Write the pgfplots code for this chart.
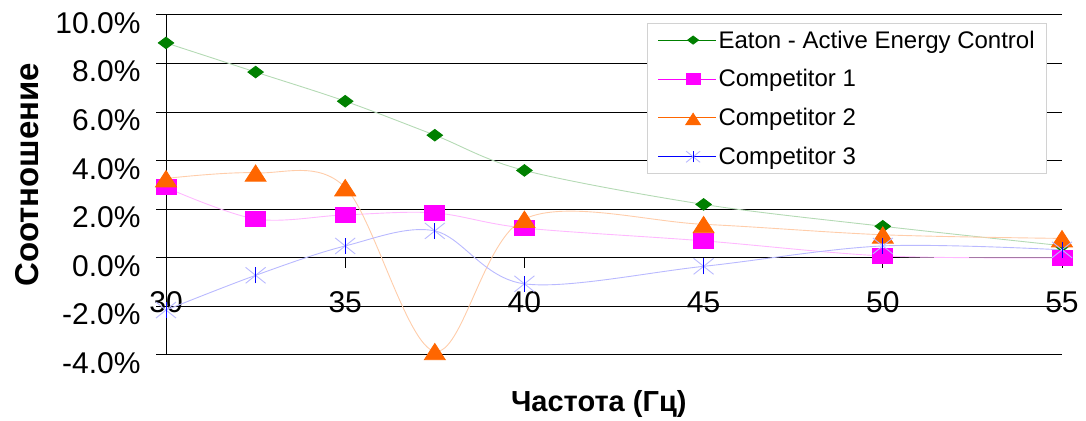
\documentclass[border=0pt]{standalone}
\usepackage{pgfplots}
\pgfplotsset{compat=1.18}
\usepackage{fontspec}
\setmainfont{Liberation Sans}
\definecolor{egreen}{RGB}{0,128,0}
\definecolor{lgreen}{RGB}{180,218,180}
\definecolor{emag}{RGB}{255,0,255}
\definecolor{lmag}{RGB}{255,185,255}
\definecolor{eorange}{RGB}{255,102,0}
\definecolor{lorange}{RGB}{255,205,170}
\definecolor{eblue}{RGB}{0,0,255}
\definecolor{lblue}{RGB}{185,185,255}
\definecolor{legbox}{RGB}{210,210,210}
\pgfdeclareplotmark{excelstar}{%
 \pgfsetstrokecolor{lblue}%
 \pgfpathmoveto{\pgfqpoint{-\pgfplotmarksize}{-0.8\pgfplotmarksize}}%
 \pgfpathlineto{\pgfqpoint{\pgfplotmarksize}{0.8\pgfplotmarksize}}%
 \pgfpathmoveto{\pgfqpoint{-\pgfplotmarksize}{0.8\pgfplotmarksize}}%
 \pgfpathlineto{\pgfqpoint{\pgfplotmarksize}{-0.8\pgfplotmarksize}}%
 \pgfusepathqstroke
 \pgfsetstrokecolor{eblue}%
 \pgfpathmoveto{\pgfqpoint{0pt}{-0.8\pgfplotmarksize}}%
 \pgfpathlineto{\pgfqpoint{0pt}{0.8\pgfplotmarksize}}%
 \pgfusepathqstroke
}
\begin{document}
\begin{tikzpicture}
\begin{axis}[
 scale only axis, width=896pt, height=340pt,
 xmin=30, xmax=55, ymin=-4, ymax=10,
 axis y line=left, axis x line=middle,
 hide obscured x ticks=false,
 axis line style={-, black, line width=1pt},
 xtick={30,35,40,45,50,55},
 xticklabels={30,35,40,45,50,55},
 ytick={-4,-2,0,2,4,6,8,10},
 yticklabels={-4.0\%,-2.0\%,0.0\%,2.0\%,4.0\%,6.0\%,8.0\%,10.0\%},
 tick align=outside,
 major tick length=10pt,
 tick style={black, line width=1pt},
 ymajorgrids, major grid style={black, line width=1pt},
 ticklabel style={font=\fontsize{30}{30}\selectfont},
 yticklabel style={yshift=-8pt, xshift=-12pt},
 xticklabel style={yshift=-20pt},
 /pgf/number format/assume math mode=true,
 xlabel={\textbf{Частота (Гц)}},
 ylabel={\textbf{Соотношение}},
 xlabel style={font=\fontsize{29}{29}\selectfont, at={(axis description cs:0.483,0)}, anchor=north, yshift=-32pt},
 ylabel style={font=\fontsize{33}{33}\selectfont, at={(axis description cs:-0.1545,0.53)}, anchor=center},
 clip=false,
 legend cell align=left,
 legend style={at={(axis description cs:0.537,0.976)}, anchor=north west,
   draw=legbox, line width=1pt, fill=white,
   font=\fontsize{24}{28}\selectfont, row sep=16pt,
   inner xsep=10pt, inner ysep=5pt,
   /tikz/every even column/.append style={column sep=2pt}},
 legend image code/.code={%
   \path (0pt,0pt) -- (58pt,0pt);
   \draw[#1] (12pt,0pt) -- (58pt,0pt);
   \draw[#1, draw=none, every mark/.append style={scale=0.7}] plot coordinates {(35pt,0pt)};},
 every axis plot/.append style={line width=0.9pt, smooth, tension=0.55},
]
\addplot[draw=lgreen, mark=diamond*, mark size=7.7pt,
  mark options={draw=egreen, fill=egreen, rotate=90},
  legend image post style={draw=egreen}]
 coordinates {(30,8.85) (32.5,7.65) (35,6.45) (37.5,5.05) (40,3.6) (45,2.2) (50,1.3) (55,0.5)};
\addlegendentry{Eaton - Active Energy Control}
\addplot[draw=lmag, mark=square*, mark size=10pt,
  mark options={draw=emag, fill=emag, yscale=0.75},
  legend image post style={draw=emag}]
 coordinates {(30,2.9) (32.5,1.6) (35,1.77) (37.5,1.85) (40,1.23) (45,0.7) (50,0.08) (55,0.0)};
\addlegendentry{Competitor 1}
\addplot[draw=lorange, mark=triangle*, mark size=12pt,
  mark options={draw=eorange, fill=eorange, yshift=-3pt, yscale=0.9},
  legend image post style={draw=eorange}]
 coordinates {(30,3.27) (32.5,3.5) (35,2.9) (37.5,-3.85) (40,1.6) (45,1.38) (50,0.95) (55,0.8)};
\addlegendentry{Competitor 2}
\addplot[draw=lblue, mark=excelstar, mark size=10pt,
  legend image post style={draw=eblue}]
 coordinates {(30,-2.15) (32.5,-0.72) (35,0.49) (37.5,1.11) (40,-1.07) (45,-0.35) (50,0.49) (55,0.33)};
\addlegendentry{Competitor 3}
\coordinate (bbsw) at (rel axis cs:-0.1853,-0.1765);
\coordinate (bbne) at (rel axis cs:1.0268,1.0441);
\end{axis}
\path (bbsw) rectangle (bbne);
\end{tikzpicture}
\end{document}
